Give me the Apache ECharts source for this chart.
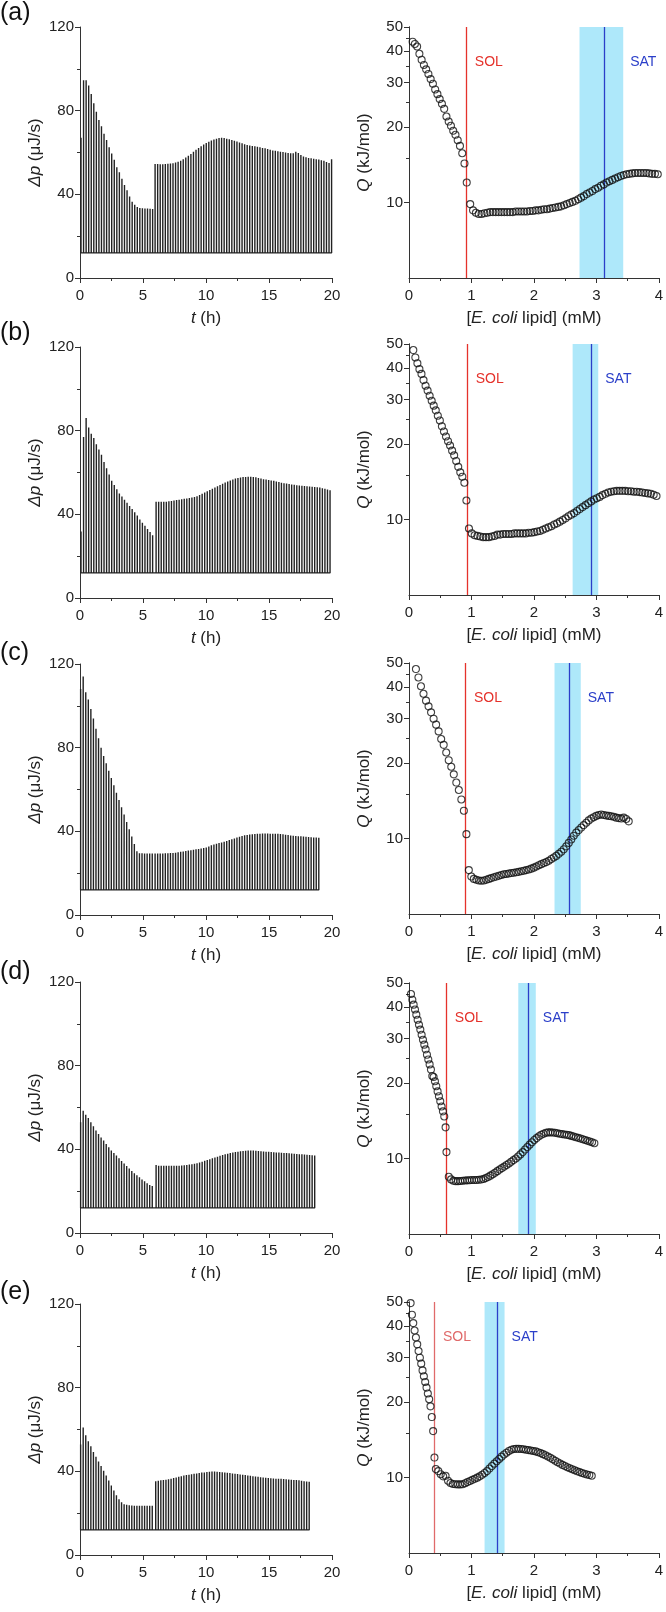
<!DOCTYPE html>
<html>
<head>
<meta charset="utf-8">
<script src="https://cdn.jsdelivr.net/npm/echarts@6/dist/echarts.min.js"></script>
<style>
html,body{margin:0;padding:0;background:#fff;}
#chart{width:666px;height:1612px;}
</style>
</head>
<body>
<div id="chart"></div>
<script>
// ---------------- DATA ----------------
const PANEL_LABELS = ['(a)', '(b)', '(c)', '(d)', '(e)'];
const BASELINE = 12;          // thermogram baseline (µJ/s)
const T_STEP = 0.203;         // injection interval (h)
const T1_START = [0.08, 0.08, 0.05, 0.05, 0.05];
const T2_START = [5.96, 6.04, 5.96, 6.04, 6.01];

// thermogram peak heights, first syringe / second syringe
const peaks1_a = [67, 94.5, 94.5, 92, 88, 83.5, 79.5, 75.5, 72.5, 69, 66, 62.5, 59.5, 56.5, 53, 50.5, 47.5, 44.5, 42, 39, 36.5, 35, 34, 33.5, 33.3, 33.2, 33.2, 33.1, 33];
const peaks2_a = [54.5, 54.5, 54.4, 54.4, 54.5, 54.6, 54.7, 54.9, 55.2, 55.6, 56.1, 56.8, 57.6, 58.4, 59.3, 60.3, 61.3, 62.2, 63, 63.8, 64.5, 65.1, 65.7, 66.2, 66.6, 66.9, 67, 66.9, 66.6, 66.3, 66, 65.6, 65.2, 64.8, 64.4, 64, 63.6, 63.3, 63.1, 63, 62.8, 62.5, 62.2, 62, 61.7, 61.3, 61, 60.8, 60.6, 60.4, 60.2, 60, 59.8, 59.6, 59.7, 60.4, 59.8, 58.8, 58.1, 57.7, 57.4, 57.2, 57, 56.8, 56.6, 56.3, 56, 55.5, 55, 56.8];
const peaks1_b = [31.8, 77, 86, 81.5, 78.5, 76.5, 73.5, 71, 68.5, 65, 62, 59, 56, 54, 52, 50, 48.5, 47, 45.5, 44, 42.5, 41, 39.5, 37.5, 36, 34.5, 33, 31.5, 30];
const peaks2_b = [46, 46, 46, 46, 46, 46.2, 46.4, 46.6, 46.8, 47, 47.2, 47.4, 47.6, 47.8, 48, 48.3, 48.7, 49.2, 49.8, 50.4, 51, 51.6, 52.2, 52.8, 53.4, 54, 54.6, 55.2, 55.7, 56.2, 56.7, 57.1, 57.4, 57.6, 57.8, 57.9, 58, 58, 57.9, 57.7, 57.4, 57.1, 56.8, 56.6, 56.4, 56.2, 56, 55.7, 55.4, 55.1, 54.9, 54.7, 54.5, 54.3, 54.1, 53.9, 53.8, 53.7, 53.5, 53.4, 53.3, 53.2, 53.1, 53, 52.8, 52.5, 52.2, 51.9, 51.5];
const peaks1_c = [108, 114, 106.5, 103, 98.5, 94, 89, 84.5, 80, 76, 72.5, 69, 65.5, 62, 58.5, 55, 51.5, 48, 44.5, 41, 37.5, 34, 30.5, 29.5, 29.5, 29.4, 29.4, 29.4, 29.4];
const peaks2_c = [29.4, 29.4, 29.4, 29.4, 29.5, 29.5, 29.6, 29.7, 29.8, 30, 30.2, 30.4, 30.6, 30.8, 31, 31.2, 31.4, 31.6, 31.8, 32, 32.3, 32.8, 33.3, 33.7, 34.1, 34.4, 34.7, 35, 35.4, 35.8, 36.2, 36.6, 37, 37.4, 37.8, 38.1, 38.3, 38.5, 38.6, 38.7, 38.8, 38.9, 39, 39, 39, 38.9, 38.9, 38.8, 38.8, 38.7, 38.6, 38.4, 38.2, 38, 37.9, 37.8, 37.7, 37.6, 37.5, 37.4, 37.3, 37.2, 37.1, 37, 36.9];
const peaks1_d = [53, 58.5, 56.5, 55, 53, 51, 49, 47.3, 45.7, 44.2, 42.5, 41, 39.5, 38.2, 37, 35.7, 34.4, 33.2, 32, 30.8, 29.7, 28.6, 27.6, 26.6, 25.6, 24.7, 23.8, 23, 22.5];
const peaks2_d = [32.5, 32.2, 32.1, 32.1, 32.1, 32.1, 32.1, 32.1, 32.2, 32.2, 32.3, 32.4, 32.5, 32.7, 32.9, 33.1, 33.4, 33.7, 34.1, 34.5, 34.9, 35.3, 35.7, 36.1, 36.5, 36.9, 37.3, 37.6, 37.9, 38.2, 38.5, 38.7, 38.9, 39.1, 39.2, 39.3, 39.4, 39.4, 39.4, 39.3, 39.2, 39.1, 39, 38.9, 38.8, 38.7, 38.6, 38.5, 38.5, 38.4, 38.3, 38.2, 38.1, 38, 37.9, 37.8, 37.7, 37.6, 37.5, 37.4, 37.3, 37.2, 37.1];
const peaks1_e = [52.8, 61, 57.2, 54.4, 52, 49.3, 47, 44.7, 42.5, 40.3, 38, 35.6, 33.2, 30.8, 28.6, 26.7, 25.2, 24.3, 24, 23.8, 23.7, 23.6, 23.6, 23.5, 23.5, 23.5, 23.5, 23.5, 23.5];
const peaks2_e = [35.3, 35.5, 35.7, 35.8, 36, 36.2, 36.5, 36.8, 37.1, 37.4, 37.7, 38, 38.2, 38.4, 38.6, 38.8, 39, 39.2, 39.4, 39.5, 39.7, 39.8, 39.9, 39.9, 39.8, 39.7, 39.6, 39.5, 39.3, 39.2, 39, 38.9, 38.7, 38.5, 38.4, 38.2, 38, 37.9, 37.7, 37.5, 37.4, 37.2, 37.1, 36.9, 36.8, 36.7, 36.6, 36.5, 36.4, 36.4, 36.3, 36.2, 36.1, 36, 35.9, 35.8, 35.7, 35.5, 35.3, 35.1, 35];

// Q (kJ/mol) vs [E. coli lipid] (mM)
const C1_START = [0.058, 0.069, 0.111, 0.032, 0.026];
const C1_STEP  = [0.0361, 0.0327, 0.0404, 0.0213, 0.0212];
const C2_START = [0.98, 0.96, 0.958, 0.60, 0.43];
const C2_STEP  = [0.0455, 0.0455, 0.040, 0.037, 0.039];

const q1_a = [43.7, 42.8, 41.8, 39.1, 37, 35.3, 33.9, 32.5, 31, 29.7, 28.2, 27, 25.8, 24.7, 23.6, 22, 21, 20.2, 19.3, 18.6, 17.7, 16.8, 15.7, 14.3, 12];
const q2_a = [9.85, 9.3, 9.1, 9.0, 9.0, 9.05, 9.1, 9.15, 9.15, 9.15, 9.15, 9.15, 9.15, 9.15, 9.15, 9.15, 9.2, 9.2, 9.2, 9.2, 9.2, 9.25, 9.25, 9.3, 9.3, 9.35, 9.4, 9.4, 9.45, 9.5, 9.55, 9.6, 9.65, 9.75, 9.85, 9.95, 10.05, 10.15, 10.3, 10.45, 10.6, 10.8, 10.95, 11.1, 11.3, 11.45, 11.65, 11.8, 12.0, 12.15, 12.3, 12.45, 12.6, 12.75, 12.85, 12.95, 13.0, 13.05, 13.1, 13.1, 13.1, 13.1, 13.1, 13.05, 13.0, 13.0, 12.95];
const q1_b = [47.3, 44.2, 41.9, 39.7, 38, 35.9, 34.1, 32.6, 31.1, 29.7, 28.4, 27.2, 25.9, 24.8, 23.5, 22.4, 21.4, 20.5, 19.7, 18.8, 18, 17.1, 16.2, 15.4, 14.8, 14, 11.9];
const q2_b = [9.2, 8.8, 8.65, 8.6, 8.55, 8.5, 8.5, 8.5, 8.55, 8.6, 8.7, 8.7, 8.75, 8.75, 8.75, 8.75, 8.8, 8.8, 8.8, 8.8, 8.8, 8.85, 8.85, 8.9, 8.95, 9.0, 9.1, 9.2, 9.3, 9.4, 9.55, 9.65, 9.8, 9.95, 10.1, 10.3, 10.45, 10.6, 10.8, 11.0, 11.2, 11.4, 11.6, 11.8, 12.0, 12.15, 12.3, 12.5, 12.65, 12.8, 12.9, 12.95, 13.0, 13.0, 13.0, 13.0, 12.95, 12.95, 12.9, 12.9, 12.85, 12.8, 12.75, 12.7, 12.65, 12.55, 12.4];
const q1_c = [47.3, 43.8, 40.4, 37.7, 35.4, 33.6, 31.8, 30, 28.4, 26.7, 24.9, 23.6, 22, 20.5, 19.3, 18, 16.7, 15.6, 14.3, 12.9, 10.4];
const q2_c = [7.48, 7.05, 6.9, 6.85, 6.8, 6.78, 6.8, 6.85, 6.9, 6.95, 7.0, 7.05, 7.1, 7.15, 7.2, 7.22, 7.25, 7.28, 7.3, 7.33, 7.36, 7.4, 7.44, 7.48, 7.52, 7.58, 7.65, 7.73, 7.82, 7.9, 7.98, 8.05, 8.15, 8.28, 8.4, 8.52, 8.68, 8.85, 9.05, 9.3, 9.6, 9.9, 10.25, 10.55, 10.8, 11.05, 11.3, 11.55, 11.8, 12.0, 12.15, 12.3, 12.4, 12.45, 12.4, 12.35, 12.3, 12.25, 12.2, 12.1, 12.05, 12.0, 12.1, 11.95, 11.7];
const q1_d = [45.2, 42.9, 41, 39.2, 37.4, 35.7, 34.1, 32.6, 31.1, 29.7, 28.4, 27.2, 25.9, 24.8, 23.7, 22.6, 21.3, 21.1, 20.3, 19.4, 18.5, 17.7, 16.9, 16.1, 15.4, 14.7, 13.3];
const q2_d = [10.6, 8.45, 8.25, 8.15, 8.12, 8.12, 8.13, 8.15, 8.17, 8.18, 8.19, 8.2, 8.2, 8.21, 8.22, 8.24, 8.28, 8.35, 8.44, 8.54, 8.65, 8.77, 8.9, 9.03, 9.15, 9.28, 9.42, 9.55, 9.7, 9.85, 10.0, 10.18, 10.38, 10.6, 10.85, 11.1, 11.35, 11.6, 11.85, 12.05, 12.25, 12.42, 12.55, 12.65, 12.7, 12.7, 12.68, 12.65, 12.6, 12.55, 12.5, 12.46, 12.42, 12.38, 12.3, 12.23, 12.15, 12.08, 12.0, 11.93, 11.85, 11.77, 11.68, 11.6, 11.5];
const q1_e = [49.5, 44.5, 41.2, 38.5, 36.1, 33.9, 31.9, 30, 28.4, 26.7, 25.3, 24, 22.8, 21.6, 20.5, 19.2, 17.4, 15.3, 12];
const q2_e = [10.8, 10.6, 10.3, 10.1, 10.15, 9.7, 9.5, 9.42, 9.4, 9.38, 9.38, 9.4, 9.48, 9.58, 9.68, 9.78, 9.88, 9.98, 10.1, 10.25, 10.42, 10.6, 10.85, 11.1, 11.35, 11.6, 11.85, 12.1, 12.35, 12.55, 12.75, 12.9, 12.98, 13.0, 13.0, 12.98, 12.95, 12.9, 12.85, 12.8, 12.75, 12.7, 12.6, 12.5, 12.38, 12.25, 12.12, 11.98, 11.82, 11.66, 11.5, 11.36, 11.22, 11.1, 10.98, 10.88, 10.78, 10.68, 10.58, 10.5, 10.42, 10.35, 10.28, 10.22, 10.16];

// solubilization / saturation boundaries (mM)
const SOL = [0.91, 0.925, 0.895, 0.59, 0.40];
const SAT = [3.13, 2.91, 2.57, 1.905, 1.41];
const SAT_LO = [2.73, 2.62, 2.33, 1.75, 1.21];
const SAT_HI = [3.43, 3.03, 2.75, 2.03, 1.53];

// axis ticks
const T_TICKS = [0, 20, 5];
const P_TICKS = [0, 120, 40];
const C_TICKS = [0, 4, 1];
const Q_MAJOR = [10, 20, 30, 40, 50];
const Q_MINOR = [15, 25, 35, 45];
const Q_RANGE = [5, 50];

// ---------------- LAYOUT ----------------
const LEFT_TOP = [27, 347, 664, 982, 1304];
const RIGHT_TOP = [27, 344, 663, 983, 1302];
const LABEL_TOP = [1, 321, 641, 960, 1280];
const FONT = 'Liberation Sans, Arial, Helvetica, sans-serif';
const AX = '#333';
const RED = '#e5322b';
const SOL_COLORS = [RED, RED, RED, RED, '#e06a6a'];
const BLUE = '#2b3fc9';
const BAND = '#aee8fa';

const peaks1 = [peaks1_a, peaks1_b, peaks1_c, peaks1_d, peaks1_e];
const peaks2 = [peaks2_a, peaks2_b, peaks2_c, peaks2_d, peaks2_e];
const q1 = [q1_a, q1_b, q1_c, q1_d, q1_e];
const q2 = [q2_a, q2_b, q2_c, q2_d, q2_e];

function thermogram(k) {
  const d = [];
  peaks1[k].forEach((p, i) => { const t = T1_START[k] + i * T_STEP; d.push([t, BASELINE], [t, p], [t, BASELINE]); });
  peaks2[k].forEach((p, i) => { const t = T2_START[k] + i * T_STEP; d.push([t, BASELINE], [t, p], [t, BASELINE]); });
  return d;
}
function qdata(k) {
  const d = q1[k].map((q, i) => [C1_START[k] + i * C1_STEP[k], q]);
  return d.concat(q2[k].map((q, i) => [C2_START[k] + i * C2_STEP[k], q]));
}

const labelStyle = { color: '#222', fontSize: 15, fontFamily: FONT };
const nameStyle = { color: '#222', fontSize: 17, fontFamily: FONT,
  rich: { i: { fontStyle: 'italic', fontSize: 17, fontFamily: FONT, color: '#222' } } };
const axLine = { show: true, onZero: false, lineStyle: { color: AX, width: 1 } };

const grid = [], xAxis = [], yAxis = [], series = [];
for (let k = 0; k < 5; k++) {
  grid.push({ left: 80, top: LEFT_TOP[k], width: 252, height: 251 });
  grid.push({ left: 409, top: RIGHT_TOP[k], width: 252, height: 251 });
  const gl = 2 * k, gr = 2 * k + 1;
  xAxis.push({ type: 'value', gridIndex: gl, min: T_TICKS[0], max: T_TICKS[1], interval: T_TICKS[2],
    axisLine: axLine, axisTick: { length: 5, lineStyle: { color: AX } },
    minorTick: { show: true, splitNumber: 2, length: 3, lineStyle: { color: AX } },
    axisLabel: Object.assign({ margin: 10 }, labelStyle), splitLine: { show: false },
    name: '{i|t} (h)', nameLocation: 'middle', nameGap: 32, nameTextStyle: nameStyle });
  xAxis.push({ type: 'value', gridIndex: gr, min: C_TICKS[0], max: C_TICKS[1], interval: C_TICKS[2],
    axisLine: axLine, axisTick: { length: 5, lineStyle: { color: AX } },
    minorTick: { show: true, splitNumber: 2, length: 3, lineStyle: { color: AX } },
    axisLabel: Object.assign({ margin: 10 }, labelStyle), splitLine: { show: false },
    name: '[{i|E. coli} lipid] (mM)', nameLocation: 'middle', nameGap: 32, nameTextStyle: nameStyle });
  const yl = yAxis.length;
  yAxis.push({ type: 'value', gridIndex: gl, position: 'left', min: P_TICKS[0], max: P_TICKS[1], interval: P_TICKS[2],
    axisLine: axLine, axisTick: { length: 5, lineStyle: { color: AX } },
    minorTick: { show: true, splitNumber: 2, length: 3, lineStyle: { color: AX } },
    axisLabel: Object.assign({ margin: 6 }, labelStyle), splitLine: { show: false },
    name: '{i|Δp} (μJ/s)', nameLocation: 'middle', nameGap: 36, nameTextStyle: nameStyle });
  const yr = yAxis.length;
  yAxis.push({ type: 'log', logBase: 10, gridIndex: gr, position: 'left', min: Q_RANGE[0], max: Q_RANGE[1],
    axisLine: axLine,
    axisTick: { length: 5, customValues: Q_MAJOR, lineStyle: { color: AX } },
    axisLabel: Object.assign({ margin: 6, customValues: Q_MAJOR, formatter: v => String(Math.round(v)) }, labelStyle),
    splitLine: { show: false },
    name: '{i|Q} (kJ/mol)', nameLocation: 'middle', nameGap: 36, nameTextStyle: nameStyle });
  yAxis.push({ type: 'log', logBase: 10, gridIndex: gr, position: 'left', min: Q_RANGE[0], max: Q_RANGE[1],
    axisLine: axLine,
    axisTick: { length: 3, customValues: Q_MINOR, lineStyle: { color: AX } },
    axisLabel: { show: false }, splitLine: { show: false } });

  series.push({ type: 'line', xAxisIndex: gl, yAxisIndex: yl, data: thermogram(k),
    showSymbol: false, symbol: 'none', lineStyle: { color: '#222', width: 1.4 }, silent: true });
  series.push({ type: 'scatter', xAxisIndex: gr, yAxisIndex: yr, data: qdata(k), z: 5,
    symbol: 'circle', symbolSize: 7,
    itemStyle: { color: 'rgba(0,0,0,0)', borderColor: '#111', borderWidth: 1.1 },
    markArea: { silent: true, itemStyle: { color: BAND }, data: [[{ xAxis: SAT_LO[k] }, { xAxis: SAT_HI[k] }]] },
    markLine: { silent: true, symbol: 'none', label: { show: false },
      data: [
        { xAxis: SOL[k], lineStyle: { color: SOL_COLORS[k], width: 1.3, type: 'solid' } },
        { xAxis: SAT[k], lineStyle: { color: BLUE, width: 1.3, type: 'solid' } }
      ] } });
}

const chart = echarts.init(document.getElementById('chart'), null, { renderer: 'canvas' });
chart.setOption({ animation: false, backgroundColor: '#fff', grid, xAxis, yAxis, series });

const graphic = [];
for (let k = 0; k < 5; k++) {
  graphic.push({ type: 'text', x: 0, y: LABEL_TOP[k], style: { text: PANEL_LABELS[k], font: '25px ' + FONT, fill: '#111' } });
  const solX = chart.convertToPixel({ xAxisIndex: 2 * k + 1 }, SOL[k]);
  const hiX = chart.convertToPixel({ xAxisIndex: 2 * k + 1 }, SAT_HI[k]);
  const y = RIGHT_TOP[k] + 35;
  graphic.push({ type: 'text', x: solX + 9, y: y, style: { text: 'SOL', font: '14px ' + FONT, fill: SOL_COLORS[k], verticalAlign: 'middle' } });
  graphic.push({ type: 'text', x: hiX + 7, y: y, style: { text: 'SAT', font: '14px ' + FONT, fill: BLUE, verticalAlign: 'middle' } });
}
chart.setOption({ graphic });
</script>
</body>
</html>
